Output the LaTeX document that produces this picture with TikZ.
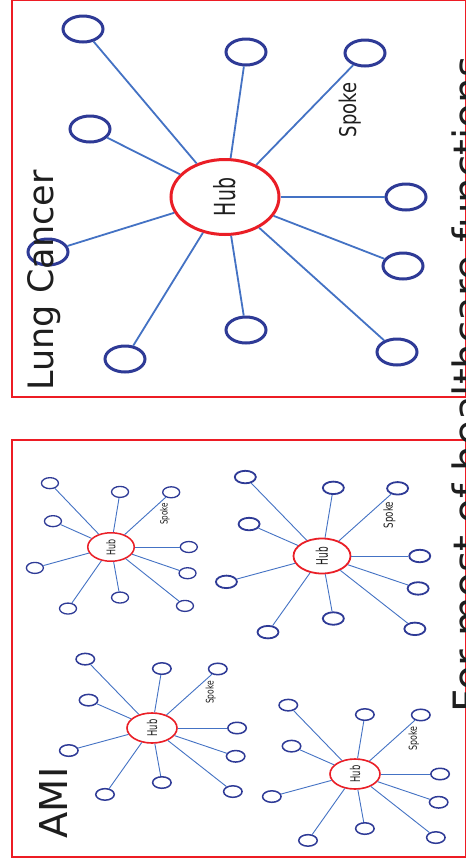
\documentclass[tikz,border=0pt]{standalone}
\usepackage{fontspec}
\setmainfont{DejaVu Sans}
\usetikzlibrary{shapes.geometric}
\definecolor{boxred}{RGB}{237,28,36}
\definecolor{hubred}{RGB}{234,30,38}
\definecolor{spokeblue}{RGB}{46,58,150}
\definecolor{lineblue}{RGB}{68,114,196}
\definecolor{ink}{RGB}{30,30,30}
\newcommand\hubstar[3]{%
  \node[hubnode] (#1h) at (0,0) {\scalebox{#2}[1]{Hub}};
  \foreach \i/\dx/\dy in {1/-142/-168,2/21/-145,3/140/-144,4/-135/-68,5/181/0,6/-177/55,7/178/69,8/-100/162,9/21/133,10/172/155}{%
    \node[spokenode] (#1s\i) at (\dx,\dy) {};
    \draw[spokeline] (#1h) -- (#1s\i);
  }%
  \node[spoketext] (#1t) at (125,-87) {\scalebox{#3}[1]{Spoke}};
}
\tikzset{
  panel/.style={draw=boxred, line width=2.5pt},
  bigtitle/.style={rotate=90, anchor=base west, inner sep=0pt, text=ink},
  hubnode/.style={ellipse, draw=hubred, rotate=90, inner sep=0pt, text=ink},
  spokenode/.style={ellipse, draw=spokeblue, inner sep=0pt},
  spokeline/.style={draw=lineblue},
  spoketext/.style={rotate=90, inner sep=0pt, text=ink},
}
\begin{document}
\begin{tikzpicture}[x=1pt,y=-1pt]
\useasboundingbox (0,0) rectangle (466,863);
\clip (0,0) rectangle (466,863);
\fill[white] (0,0) rectangle (466,863);
% panels
\draw[panel] (12,-0.5) rectangle (466.5,397);
\draw[panel] (12,440) rectangle (466.5,857);
% big group (Lung Cancer)
\begin{scope}[shift={(225,197)},
  hubnode/.append style={line width=3pt, minimum width=75pt, minimum height=108pt, font=\fontsize{29}{30}\selectfont},
  spokenode/.append style={line width=3pt, minimum width=40pt, minimum height=26pt},
  spokeline/.append style={line width=1.8pt},
  spoketext/.append style={font=\fontsize{23}{24}\selectfont}]
\hubstar{L}{0.65}{0.78}
\end{scope}
% AMI group A
\begin{scope}[shift={(111,547)}, xscale=0.43, yscale=0.38,
  hubnode/.append style={line width=1.5pt, minimum width=28.5pt, minimum height=46.5pt, font=\fontsize{12}{13}\selectfont},
  spokenode/.append style={line width=1.3pt, minimum width=17pt, minimum height=11pt},
  spokeline/.append style={line width=0.9pt},
  spoketext/.append style={font=\fontsize{10}{11}\selectfont}]
\hubstar{A}{0.66}{0.72}
\end{scope}
% AMI group B
\begin{scope}[shift={(322,556)}, xscale=0.54, yscale=0.47,
  hubnode/.append style={line width=1.8pt, minimum width=35pt, minimum height=57pt, font=\fontsize{16}{17}\selectfont},
  spokenode/.append style={line width=1.8pt, minimum width=21pt, minimum height=12.5pt},
  spokeline/.append style={line width=0.9pt},
  spoketext/.append style={font=\fontsize{12.5}{13}\selectfont}]
\hubstar{B}{0.56}{0.70}
\end{scope}
% AMI group C
\begin{scope}[shift={(152,728)}, xscale=0.47, yscale=0.41,
  hubnode/.append style={line width=1.6pt, minimum width=30pt, minimum height=50pt, font=\fontsize{13.5}{14}\selectfont},
  spokenode/.append style={line width=1.5pt, minimum width=18.5pt, minimum height=11.5pt},
  spokeline/.append style={line width=0.9pt},
  spoketext/.append style={font=\fontsize{10.5}{11}\selectfont}]
\hubstar{C}{0.62}{0.72}
\end{scope}
% AMI group D
\begin{scope}[shift={(355,774)}, xscale=0.47, yscale=0.41,
  hubnode/.append style={line width=1.6pt, minimum width=30pt, minimum height=50pt, font=\fontsize{13.5}{14}\selectfont},
  spokenode/.append style={line width=1.5pt, minimum width=18.5pt, minimum height=11.5pt},
  spokeline/.append style={line width=0.9pt},
  spoketext/.append style={font=\fontsize{11}{12}\selectfont}]
\hubstar{D}{0.62}{0.72}
\end{scope}
% titles
\node[bigtitle, font=\fontsize{35}{40}\selectfont] (lung) at (53.5,390.5) {Lung Cancer};
\node[bigtitle, font=\fontsize{38.4}{42}\selectfont] (ami) at (67,838.5) {AMI};
\node[bigtitle, font=\fontsize{40.4}{44}\selectfont] (title) at (482,713) {For most of healthcare functions};
\end{tikzpicture}
\end{document}
